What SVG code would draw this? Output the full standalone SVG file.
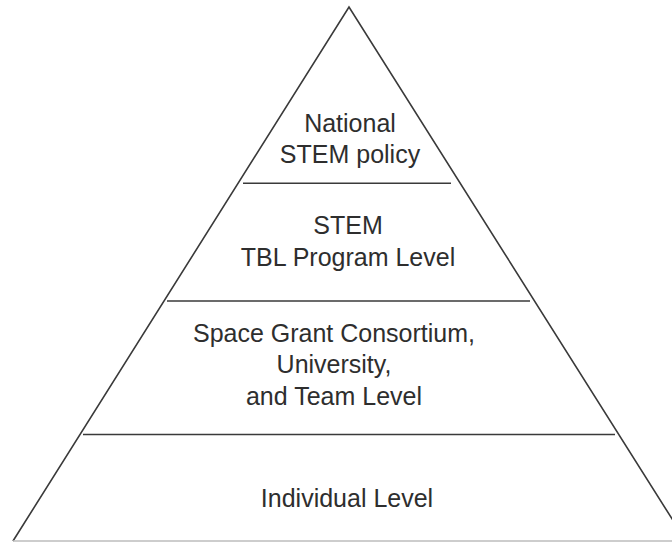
<svg xmlns="http://www.w3.org/2000/svg" width="672" height="542" viewBox="0 0 672 542">
<style>
.edge{stroke:#3a3a3a;stroke-width:1.6;fill:none}
.div{stroke:#3a3a3a;stroke-width:1.6}
.base{stroke:#bdbdbd;stroke-width:1.6}
.lbl{font-family:"Liberation Sans",Arial,sans-serif;font-size:25px;fill:#2e2e2e;text-anchor:middle}
</style>
<rect width="672" height="542" fill="#ffffff"/>
<g id="connectors">
<polyline class="edge" points="13,541 349,7 686,541"/>
<line class="base" x1="13" y1="541" x2="672" y2="541"/>
<line class="div" x1="243" y1="183.3" x2="451" y2="183.3"/>
<line class="div" x1="167" y1="301" x2="530" y2="301"/>
<line class="div" x1="83" y1="434.5" x2="615" y2="434.5"/>
</g>
<g id="node-national">
<text class="lbl" x="350" y="132">National</text>
<text class="lbl" x="350" y="163">STEM policy</text>
</g>
<g id="node-program">
<text class="lbl" x="348" y="234">STEM</text>
<text class="lbl" x="348" y="266">TBL Program Level</text>
</g>
<g id="node-university">
<text class="lbl" x="334" y="341.5">Space Grant Consortium,</text>
<text class="lbl" x="334" y="373">University,</text>
<text class="lbl" x="334" y="405">and Team Level</text>
</g>
<g id="node-individual">
<text class="lbl" x="347" y="507">Individual Level</text>
</g>
</svg>
